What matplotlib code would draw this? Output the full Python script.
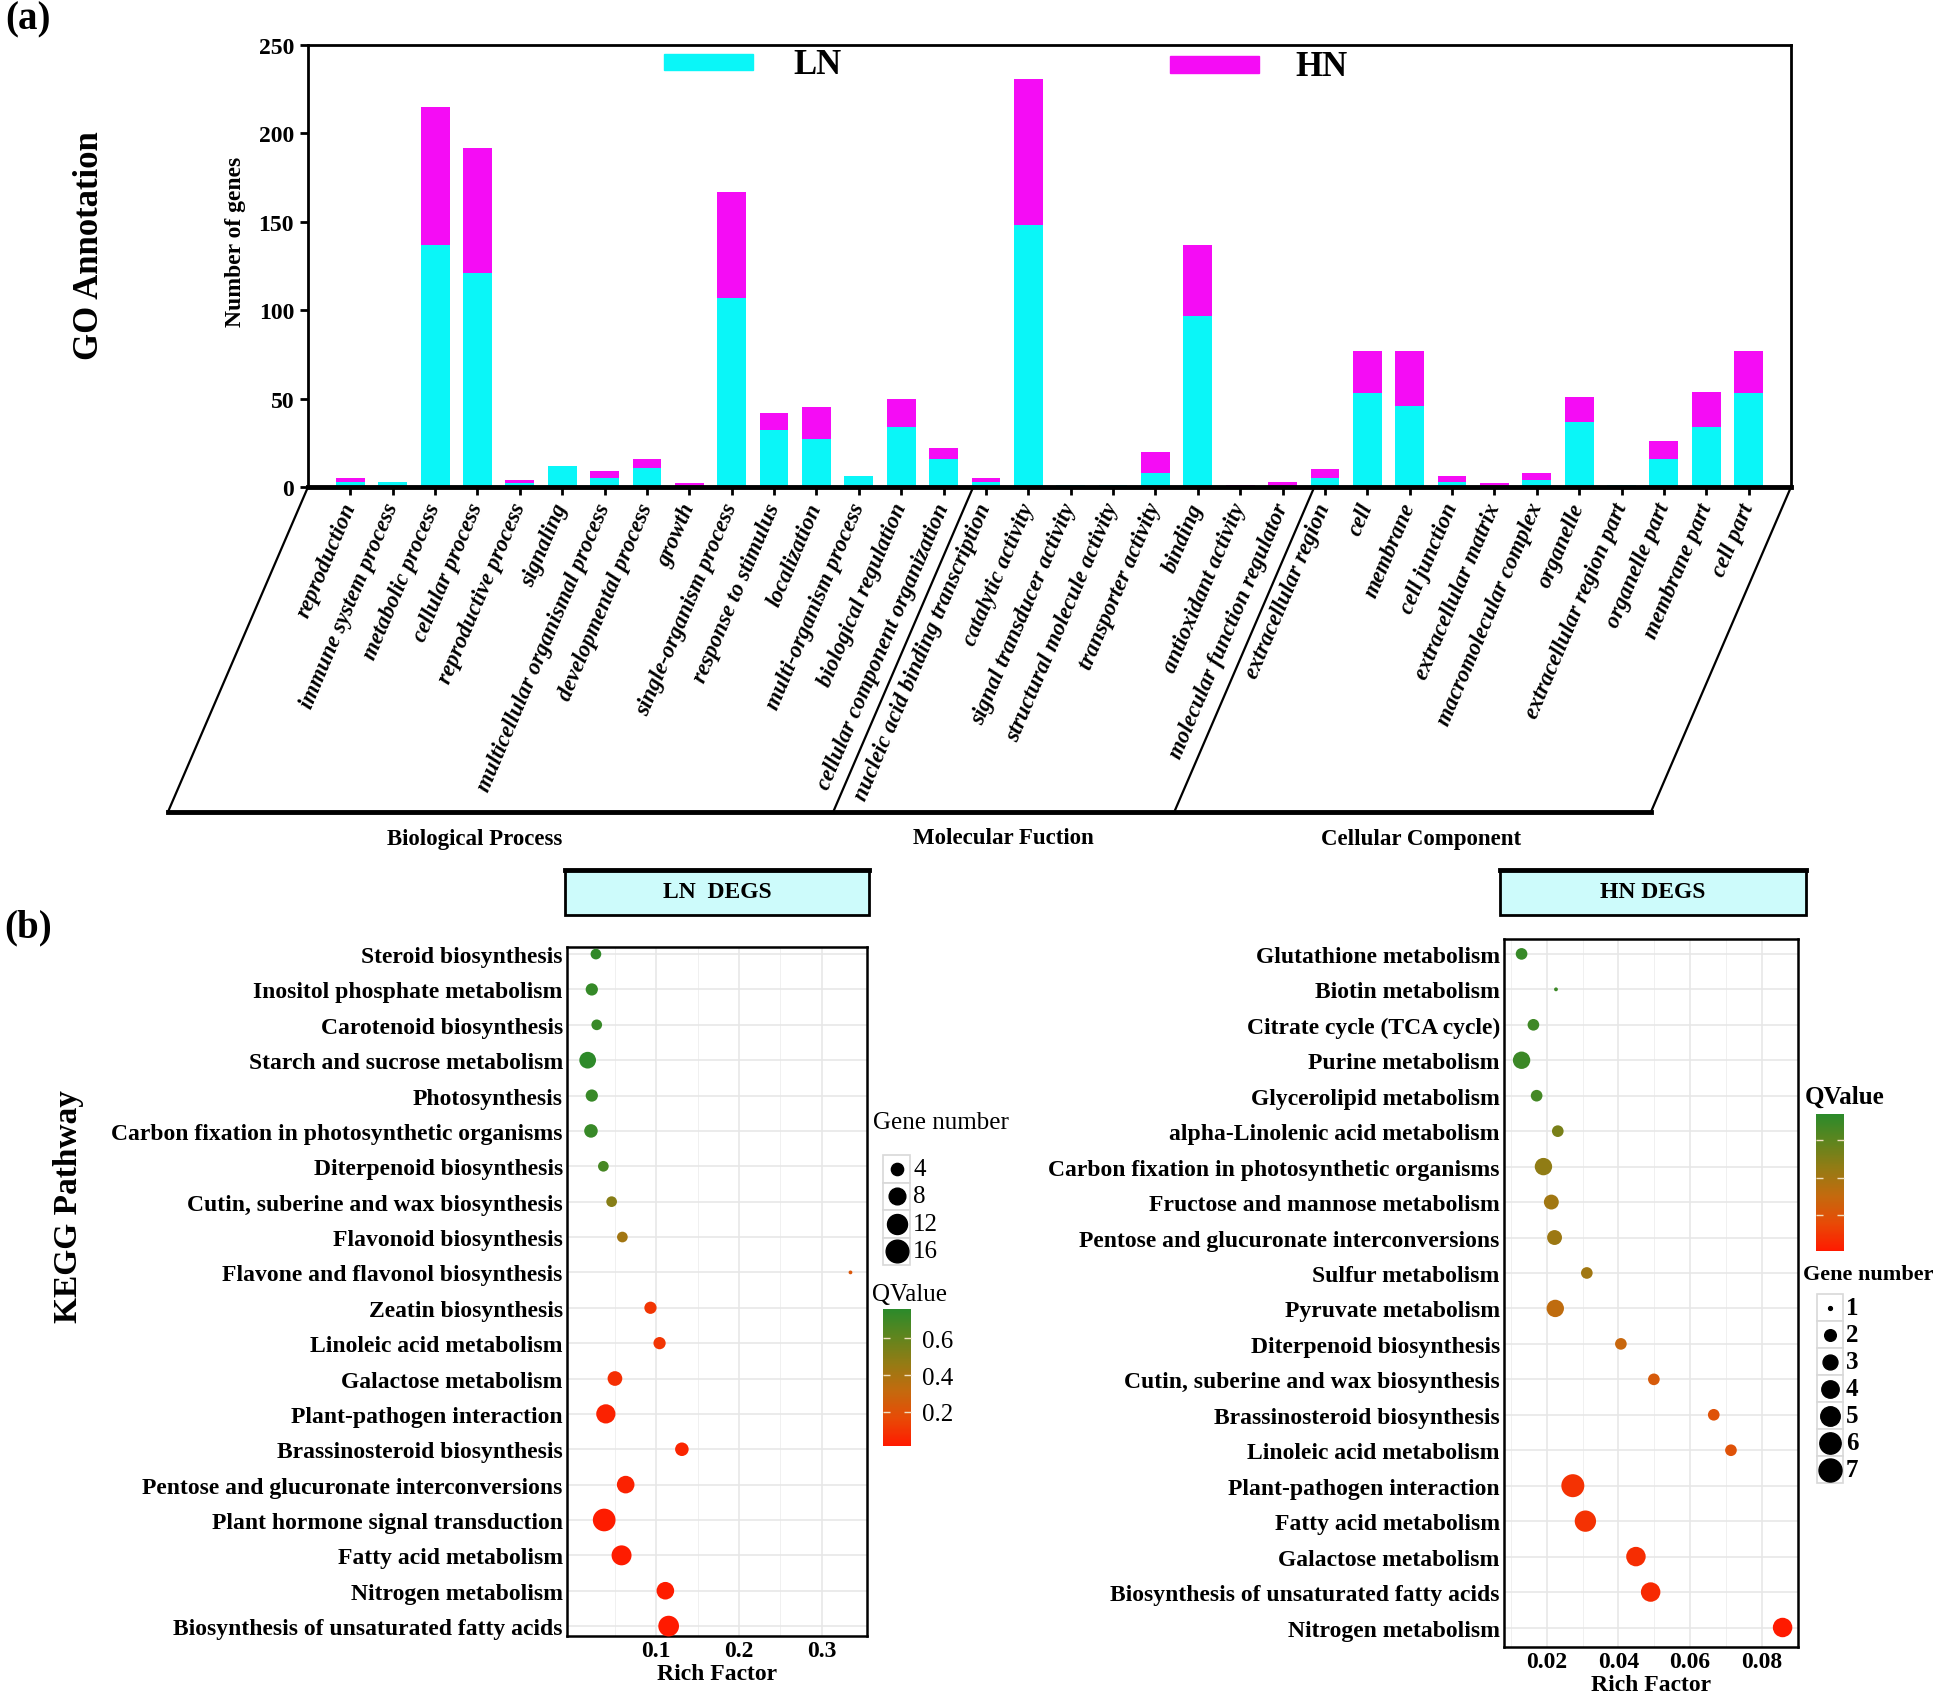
import numpy as np
import matplotlib.pyplot as plt
from matplotlib.colors import LinearSegmentedColormap, Normalize
from matplotlib.cm import ScalarMappable
from matplotlib.patches import Rectangle

plt.rcParams['font.family'] = ['Liberation Serif', 'DejaVu Serif']

# ---------------- data: GO annotation ----------------
go_terms = ['reproduction', 'immune system process', 'metabolic process', 'cellular process',
            'reproductive process', 'signaling', 'multicellular organismal process',
            'developmental process', 'growth', 'single-organism process', 'response to stimulus',
            'localization', 'multi-organism process', 'biological regulation',
            'cellular component organization', 'nucleic acid binding transcription',
            'catalytic activity', 'signal transducer activity', 'structural molecule activity',
            'transporter activity', 'binding', 'antioxidant activity',
            'molecular function regulator', 'extracellular region', 'cell', 'membrane',
            'cell junction', 'extracellular matrix', 'macromolecular complex', 'organelle',
            'extracellular region part', 'organelle part', 'membrane part', 'cell part']
ln_counts = [3, 3, 137, 121, 2, 12, 5, 11, 0, 107, 32, 27, 6, 34, 16,
             3, 148, 1, 1, 8, 97, 0, 0,
             5, 53, 46, 3, 0, 4, 37, 1, 16, 34, 53]
hn_counts = [2, 0, 78, 71, 2, 0, 4, 5, 2, 60, 10, 18, 0, 16, 6,
             2, 83, 0, 0, 12, 40, 1, 3,
             5, 24, 31, 3, 2, 4, 14, 0, 10, 20, 24]
go_groups = ['Biological Process', 'Molecular Fuction', 'Cellular Component']

# ---------------- data: KEGG LN ----------------
ln_path = ['Steroid biosynthesis', 'Inositol phosphate metabolism', 'Carotenoid biosynthesis',
           'Starch and sucrose metabolism', 'Photosynthesis',
           'Carbon fixation in photosynthetic organisms', 'Diterpenoid biosynthesis',
           'Cutin, suberine and wax biosynthesis', 'Flavonoid biosynthesis',
           'Flavone and flavonol biosynthesis', 'Zeatin biosynthesis', 'Linoleic acid metabolism',
           'Galactose metabolism', 'Plant-pathogen interaction', 'Brassinosteroid biosynthesis',
           'Pentose and glucuronate interconversions', 'Plant hormone signal transduction',
           'Fatty acid metabolism', 'Nitrogen metabolism',
           'Biosynthesis of unsaturated fatty acids']
ln_rich = [0.027, 0.022, 0.028, 0.017, 0.022, 0.021, 0.036, 0.046, 0.059, 0.335,
           0.093, 0.104, 0.050, 0.039, 0.131, 0.063, 0.037, 0.058, 0.111, 0.115]
ln_genes = [3, 4, 3, 8, 4, 5, 3, 3, 3, 1, 4, 4, 6, 11, 5, 9, 16, 12, 9, 13]
ln_q = [0.74, 0.73, 0.72, 0.75, 0.72, 0.72, 0.68, 0.50, 0.42, 0.22,
        0.10, 0.10, 0.08, 0.04, 0.05, 0.04, 0.02, 0.02, 0.02, 0.015]

# ---------------- data: KEGG HN ----------------
hn_path = ['Glutathione metabolism', 'Biotin metabolism', 'Citrate cycle (TCA cycle)',
           'Purine metabolism', 'Glycerolipid metabolism', 'alpha-Linolenic acid metabolism',
           'Carbon fixation in photosynthetic organisms', 'Fructose and mannose metabolism',
           'Pentose and glucuronate interconversions', 'Sulfur metabolism',
           'Pyruvate metabolism', 'Diterpenoid biosynthesis',
           'Cutin, suberine and wax biosynthesis', 'Brassinosteroid biosynthesis',
           'Linoleic acid metabolism', 'Plant-pathogen interaction', 'Fatty acid metabolism',
           'Galactose metabolism', 'Biosynthesis of unsaturated fatty acids',
           'Nitrogen metabolism']
hn_rich = [0.013, 0.0226, 0.0163, 0.013, 0.0172, 0.0231, 0.0191, 0.0213, 0.0222, 0.0312,
           0.0224, 0.0407, 0.0499, 0.0666, 0.0714, 0.0273, 0.0308, 0.0449, 0.049, 0.0858]
hn_genes = [2, 1, 2, 4, 2, 2, 4, 3, 3, 2, 4, 2, 2, 2, 2, 7, 6, 5, 5, 5]
hn_q = [0.95, 0.93, 0.92, 0.93, 0.90, 0.70, 0.62, 0.55, 0.57, 0.55,
        0.42, 0.38, 0.30, 0.25, 0.25, 0.10, 0.10, 0.08, 0.07, 0.0]

W, H = 1946, 1706
fig = plt.figure(figsize=(W / 100, H / 100), dpi=100)

cyan = '#0af6f8'
magenta = '#f50cf5'
qcmap = LinearSegmentedColormap.from_list(
    'q', ['#ff1a00', '#e84a06', '#c46a0e', '#957b14', '#5f851e', '#2b8a2b'])


def frac(x0, y0, x1, y1):
    # pixel box (top-down) -> figure fraction rect
    return [x0 / W, 1 - y1 / H, (x1 - x0) / W, (y1 - y0) / H]


# ================= (a) GO bar chart =================
ax = fig.add_axes(frac(308, 46, 1791, 488))
x = np.arange(len(go_terms))
ax.bar(x, ln_counts, 0.68, color=cyan)
ax.bar(x, hn_counts, 0.68, bottom=ln_counts, color=magenta)
ax.set_xlim(-1.0, len(go_terms))
ax.set_ylim(0, 250)
ax.set_yticks([0, 50, 100, 150, 200, 250])
ax.set_xticks(x)
ax.set_xticklabels(go_terms, rotation=67, ha='right', va='center', rotation_mode='anchor',
                   fontstyle='italic', fontweight='bold', fontsize=16.5)
for lab in ax.get_yticklabels():
    lab.set_fontweight('bold')
ax.tick_params(axis='y', labelsize=17, length=6, width=2, pad=4)
ax.tick_params(axis='x', length=6, width=2, pad=6)
for side in ['left', 'right', 'top']:
    ax.spines[side].set_linewidth(2)
ax.spines['bottom'].set_linewidth(3.5)

# legend patches
ax.add_patch(Rectangle((0.240, 0.943), 0.060, 0.037, transform=ax.transAxes,
                       color=cyan, clip_on=False))
ax.text(0.327, 0.957, 'LN', transform=ax.transAxes, fontsize=25, fontweight='bold',
        va='center', ha='left')
ax.add_patch(Rectangle((0.581, 0.937), 0.060, 0.037, transform=ax.transAxes,
                       color=magenta, clip_on=False))
ax.text(0.666, 0.951, 'HN', transform=ax.transAxes, fontsize=25, fontweight='bold',
        va='center', ha='left')

fig.text(236 / W, 1 - 242 / H, 'Number of genes', rotation=90, fontsize=17,
         fontweight='bold', ha='center', va='center')
fig.text(89 / W, 1 - 246 / H, 'GO Annotation', rotation=90, fontsize=25,
         fontweight='bold', ha='center', va='center')
fig.text(28 / W, 1 - 20 / H, '(a)', fontsize=28, fontweight='bold', ha='center', va='center')
fig.text(28 / W, 1 - 928 / H, '(b)', fontsize=28, fontweight='bold', ha='center', va='center')

# overlay in pixel coordinates (top-down) for frame lines and legends
ov = fig.add_axes([0, 0, 1, 1], zorder=5)
ov.set_xlim(0, W)
ov.set_ylim(H, 0)
ov.axis('off')
ov.patch.set_alpha(0)

fig.canvas.draw()


def to_px(axis, xd, yd):
    dx, dy = axis.transData.transform((xd, yd))
    return dx, H - dy


y_base = 813
slant = 0.431
for xd in [-1.0, 14.7, 22.75, len(go_terms)]:
    px, py = to_px(ax, xd, 0)
    ov.plot([px, px - slant * (y_base - py)], [py, y_base], color='black', lw=1.6)
bx0 = to_px(ax, -1.0, 0)
bx1 = to_px(ax, len(go_terms), 0)
ov.plot([bx0[0] - slant * (y_base - bx0[1]), bx1[0] - slant * (y_base - bx1[1])],
        [y_base, y_base], color='black', lw=3.5)
for name, gx in zip(go_groups, [475, 1003, 1421]):
    ov.text(gx, 839, name, fontsize=16.5, fontweight='bold', ha='center', va='center')


# ================= (b) KEGG bubble charts =================
def bubble_size(v, vmin, vmax, dmax_px):
    v = np.asarray(v, dtype=float)
    u = dmax_px / 6.0
    d_px = u * (1 + 5 * np.sqrt((v - vmin) / (vmax - vmin)))
    return (d_px * 0.72) ** 2


def bubble_panel(rect, names, rich, genes, q, norm, vmin, vmax, dmax, ylim, xticks, xminor, xlim):
    b = fig.add_axes(rect)
    n = len(names)
    ypos = np.arange(n)[::-1]
    b.set_axisbelow(True)
    b.scatter(rich, ypos, s=bubble_size(genes, vmin, vmax, dmax), c=q, cmap=qcmap, norm=norm,
              edgecolors='none', zorder=3, clip_on=False)
    b.set_yticks(ypos)
    b.set_yticklabels(names, fontsize=17, fontweight='bold')
    b.set_xticks(xticks)
    b.set_xticks(xminor, minor=True)
    b.set_xticklabels([f'{t:g}' for t in xticks], fontsize=17, fontweight='bold')
    b.set_xlim(*xlim)
    b.set_ylim(*ylim)
    b.grid(True, which='major', color='#e6e6e6', lw=1.1)
    b.grid(True, which='minor', axis='x', color='#f0f0f0', lw=0.7)
    b.tick_params(axis='both', which='both', length=0, pad=3)
    for s in b.spines.values():
        s.set_linewidth(1.8)
    b.set_xlabel('Rich Factor', fontsize=17, fontweight='bold', labelpad=1)
    return b


ln_norm = Normalize(0.013, 0.76)
hn_norm = Normalize(0.0, 1.0)

bl = bubble_panel(frac(567, 948, 867, 1637), ln_path, ln_rich, ln_genes, ln_q, ln_norm,
                  1, 16, 22.7, (-0.28, 19.2), [0.1, 0.2, 0.3], [0.05, 0.15, 0.25],
                  (-0.008, 0.355))
br = bubble_panel(frac(1504, 940, 1798, 1648), hn_path, hn_rich, hn_genes, hn_q, hn_norm,
                  1, 7, 23, (-0.55, 19.42), [0.02, 0.04, 0.06, 0.08],
                  [0.01, 0.03, 0.05, 0.07, 0.09], (0.0081, 0.0901))

# title boxes
for (x0, x1), title in [((565, 869), 'LN  DEGS'), ((1500, 1806), 'HN DEGS')]:
    ov.add_patch(Rectangle((x0, 871), x1 - x0, 45, facecolor='#cdfbfb', edgecolor='black', lw=2))
    ov.plot([x0, x1], [871, 871], color='black', lw=3.5)
    ov.text((x0 + x1) / 2, 893, title, fontsize=17, fontweight='bold', ha='center', va='center')

fig.text(68 / W, 1 - 1207 / H, 'KEGG Pathway', rotation=90, fontsize=24,
         fontweight='bold', ha='center', va='center')

# ---- colorbars ----
cax_l = fig.add_axes(frac(883, 1310, 911, 1447))
cb_l = fig.colorbar(ScalarMappable(norm=ln_norm, cmap=qcmap), cax=cax_l)
cb_l.outline.set_visible(False)
cb_l.set_ticks([0.2, 0.4, 0.6])
cax_l.tick_params(direction='in', color='#f0e0c0', length=5, width=1, left=True, right=True,
                  labelsize=18, pad=8)
ov.text(872, 1295, 'QValue', fontsize=18, ha='left', va='center')

cax_r = fig.add_axes(frac(1816, 1115, 1844, 1252))
cb_r = fig.colorbar(ScalarMappable(norm=hn_norm, cmap=qcmap), cax=cax_r)
cb_r.outline.set_visible(False)
cb_r.set_ticks([0.26, 0.53, 0.81])
cax_r.tick_params(direction='in', color='#f0e0c0', length=5, width=1, left=True, right=True,
                  labelright=False)
ov.text(1805, 1097, 'QValue', fontsize=18, fontweight='bold', ha='left', va='center')

# ---- size legends ----
ln_legend_vals = [4, 8, 12, 16]
hn_legend_vals = [1, 2, 3, 4, 5, 6, 7]


def size_legend(vals, vmin, vmax, dmax, x0, y0, box_w, box_h, title, title_x, title_y,
                title_size, weight):
    ov.text(title_x, title_y, title, fontsize=title_size, fontweight=weight, ha='left',
            va='center')
    for i, v in enumerate(vals):
        yb = y0 + i * box_h
        ov.add_patch(Rectangle((x0, yb), box_w, box_h, facecolor='white',
                               edgecolor='#d8d8d8', lw=1.2))
        ov.scatter([x0 + box_w / 2], [yb + box_h / 2], s=bubble_size([v], vmin, vmax, dmax),
                   color='black', zorder=6)
        ov.text(x0 + box_w + 3, yb + box_h / 2, str(v), fontsize=18, fontweight=weight,
                ha='left', va='center')


size_legend(ln_legend_vals, 1, 16, 22.7, 883, 1156, 27, 27.5, 'Gene number', 873, 1123,
            18, 'normal')
size_legend(hn_legend_vals, 1, 7, 23, 1817, 1295, 26, 27, 'Gene number', 1803, 1275,
            16, 'bold')

fig.savefig('out.png', dpi=100)
